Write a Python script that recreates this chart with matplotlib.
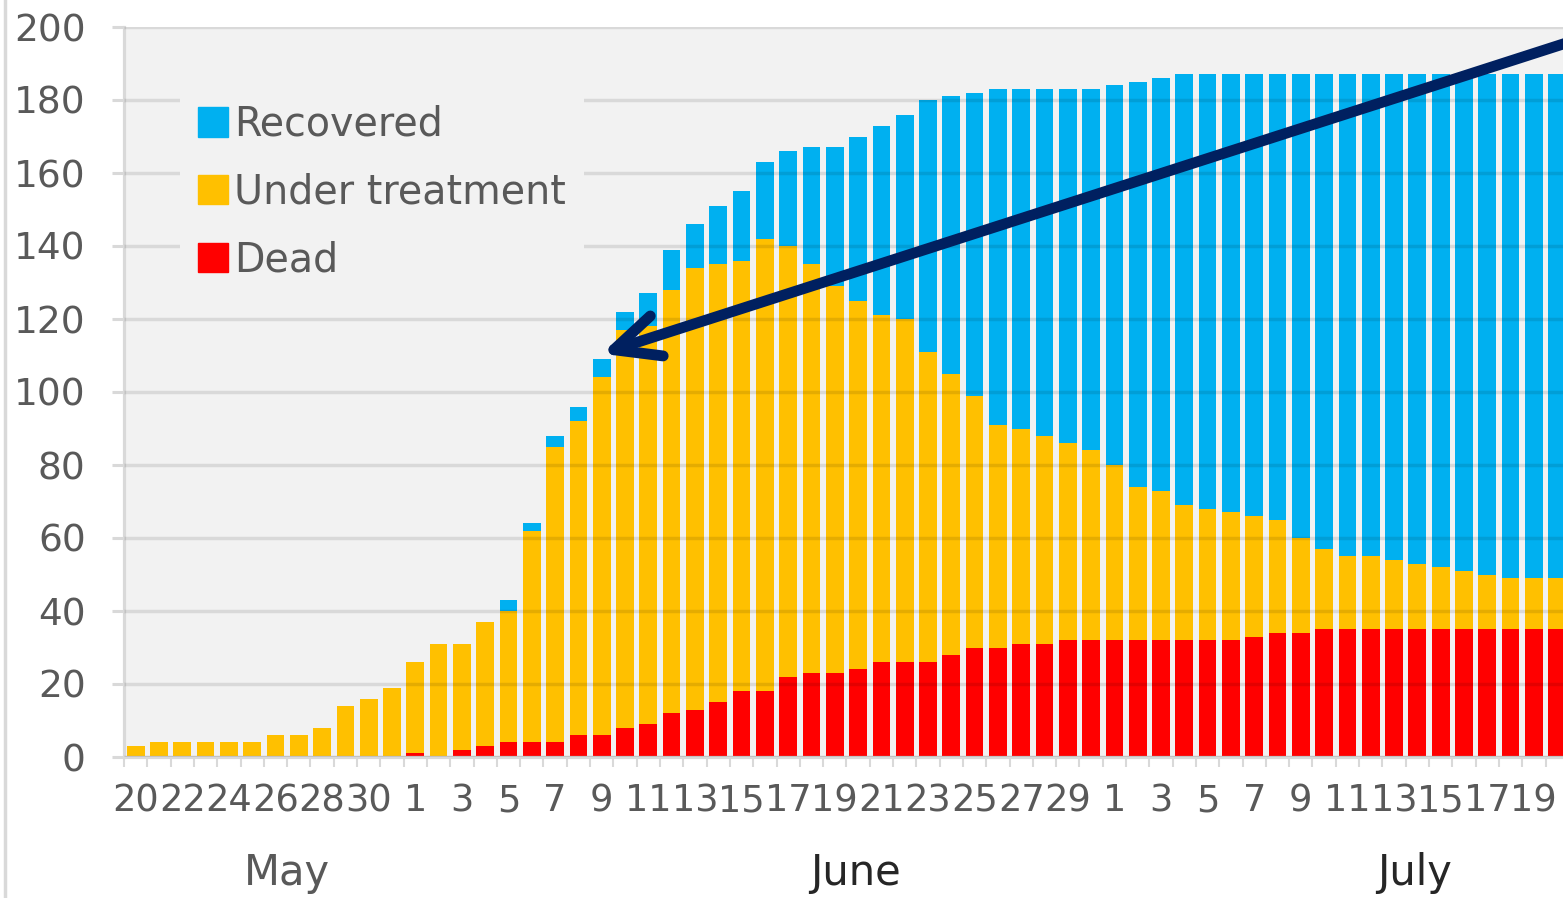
import numpy as np
import matplotlib
matplotlib.use("Agg")
import matplotlib.pyplot as plt
from matplotlib.patches import Patch
from matplotlib.lines import Line2D

# one bar per day, 20 May - 20 July
may_days = [20, 21, 22, 23, 24, 25, 26, 27, 28, 29, 30, 31]
june_days = list(range(1, 31))
july_days = list(range(1, 21))

dead = [0, 0, 0, 0, 0, 0, 0, 0, 0, 0, 0, 0,
        1, 0, 2, 3, 4, 4, 4, 6, 6, 8,
        9, 12, 13, 15, 18, 18, 22, 23, 23, 24,
        26, 26, 26, 28, 30, 30, 31, 31, 32, 32,
        32, 32, 32, 32, 32, 32, 33, 34, 34, 35,
        35, 35, 35, 35, 35, 35, 35, 35, 35, 35]
treatment = [3, 4, 4, 4, 4, 4, 6, 6, 8, 14, 16, 19,
             25, 31, 29, 34, 36, 58, 81, 86, 98, 109,
             109, 116, 121, 120, 118, 124, 118, 112, 106, 101,
             95, 94, 85, 77, 69, 61, 59, 57, 54, 52,
             48, 42, 41, 37, 36, 35, 33, 31, 26, 22,
             20, 20, 19, 18, 17, 16, 15, 14, 14, 14]
recovered = [0, 0, 0, 0, 0, 0, 0, 0, 0, 0, 0, 0,
             0, 0, 0, 0, 3, 2, 3, 4, 5, 5,
             9, 11, 12, 16, 19, 21, 26, 32, 38, 45,
             52, 56, 69, 76, 83, 92, 93, 95, 97, 99,
             104, 111, 113, 118, 119, 120, 121, 122, 127, 130,
             132, 132, 133, 134, 135, 136, 137, 138, 138, 138]

months = ["May", "June", "July"]
month_colors = ["#595959", "#262626", "#262626"]

C_REC = "#00b0f0"
C_TREAT = "#ffc000"
C_DEAD = "#ff0000"
GRAY = "#595959"

plt.rcParams["font.family"] = "DejaVu Sans"

days = may_days + june_days + july_days
x = np.arange(len(days))
# May labels on even days, June/July on odd days
labels = [str(d) if d % 2 == 0 else "" for d in may_days] + \
         [str(d) if d % 2 == 1 else "" for d in june_days + july_days]

fig = plt.figure(figsize=(15.63, 8.98), dpi=100)
ax = fig.add_axes([124 / 1563, 141 / 898, 1 - 124 / 1563, 730 / 898])
ax.set_facecolor("#f2f2f2")

w = 0.76
dead = np.array(dead)
treatment = np.array(treatment)
recovered = np.array(recovered)
ax.bar(x, dead, width=w, color=C_DEAD, linewidth=0)
ax.bar(x, treatment, width=w, bottom=dead, color=C_TREAT, linewidth=0)
ax.bar(x, recovered, width=w, bottom=dead + treatment, color=C_REC, linewidth=0)

ax.set_xlim(-0.5, 61.25)
ax.set_ylim(0, 200)

ax.set_yticks(np.arange(0, 201, 20))
ax.tick_params(axis="y", labelsize=27, labelcolor=GRAY, length=8.6,
               width=2.2, color="#d9d9d9", pad=19)
ax.set_xticks(x)
ax.set_xticklabels(labels)
ax.set_xticks(x - 0.5, minor=True)
ax.tick_params(axis="x", which="major", length=0, labelsize=26.5,
               labelcolor=GRAY, pad=18)
ax.tick_params(axis="x", which="minor", length=7, width=1.5, color="#d9d9d9")

ax.yaxis.grid(True, color="black", alpha=0.1, linewidth=2.5)
ax.set_axisbelow(False)
for side in ["top", "right"]:
    ax.spines[side].set_visible(False)
for side in ["left", "bottom"]:
    ax.spines[side].set_color("#d9d9d9")
    ax.spines[side].set_linewidth(2.3)

trans = ax.get_xaxis_transform()
for name, mx, col in zip(months, [6.5, 30.9, 54.9], month_colors):
    ax.text(mx, -0.159, name, transform=trans, ha="center", va="center",
            fontsize=30, color=col)

handles = [Patch(color=C_REC), Patch(color=C_TREAT), Patch(color=C_DEAD)]
leg = ax.legend(handles, ["Recovered", "Under treatment", "Dead"],
                loc="upper left", bbox_to_anchor=(0.039, 0.918),
                fontsize=28.5, labelcolor=GRAY, frameon=True, fancybox=False,
                facecolor="#f2f2f2", edgecolor="none", framealpha=1,
                handlelength=0.76, handleheight=0.76, handletextpad=0.15,
                labelspacing=0.7, borderpad=0.45, borderaxespad=0)

ax.annotate("", xy=(20.0, 110.5), xytext=(62.5, 197.9),
            arrowprops=dict(arrowstyle="->, head_length=0.9, head_width=0.42",
                            mutation_scale=36, lw=7.8, color="#002060",
                            shrinkA=0, shrinkB=0, capstyle="round",
                            joinstyle="round"),
            annotation_clip=False)

fig.add_artist(Line2D([5 / 1563, 5 / 1563], [0, 1], color="#d9d9d9", lw=2.5))

fig.savefig("out.png", dpi=100)
